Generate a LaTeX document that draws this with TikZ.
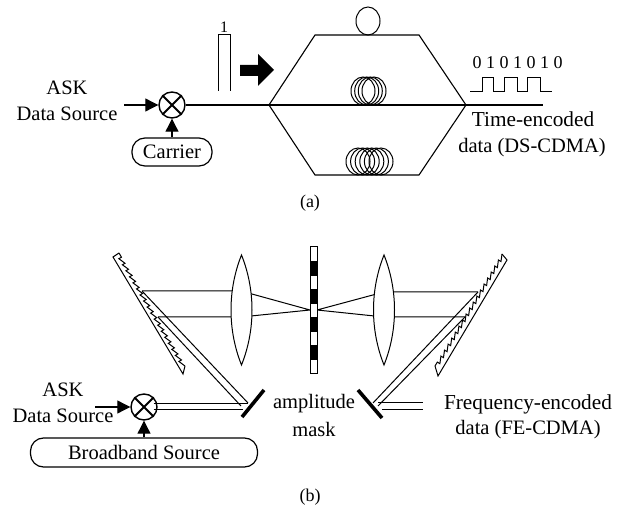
\documentclass[tikz,border=0pt]{standalone}
\usepackage{fontspec}
\setmainfont{Liberation Serif}
\usetikzlibrary{arrows.meta,decorations.pathmorphing}
\tikzset{
  line/.style={line width=1.1pt,black},
  lbl/.style={inner sep=0pt,font=\fontsize{20.5}{22}\selectfont,align=center},
  lblw/.style={inner sep=0pt,font=\fontsize{21.3}{22}\selectfont,align=center},
  mult/.style={circle,draw,line width=1.4pt,minimum size=26pt,inner sep=0pt},
  cross/.style={line width=1.8pt},
  src/.style={rounded corners=13pt,draw,line width=1.2pt,inner sep=0pt,font=\fontsize{20.5}{22}\selectfont},
  feed/.style={line width=1.1pt,-{Triangle[length=13pt,width=13pt]}},
  coil/.style={line width=1pt,draw},
  beam/.style={line width=1pt},
  mirror/.style={line width=3.6pt},
  lens/.style={line width=1pt,draw,fill=white},
  grating/.style={line width=1pt},
  teeth/.style={decorate,decoration={saw,segment length=7pt,amplitude=3pt}},
}
\begin{document}
\begin{tikzpicture}[x=1pt,y=-1pt]
\useasboundingbox (0,0) rectangle (619,510);
% ===== (a) =====
\node[lbl] (ask1) at (67,88) {ASK};
\node[lbl] (data1) at (67,114) {Data Source};
\node[mult] (m1) at (172,105) {};
\draw[cross] (m1.45)--(m1.225) (m1.135)--(m1.315);
\coordinate (in1) at (124,105);
\draw[feed] (in1) -- (m1);
\node[src,minimum width=80pt,minimum height=28pt] (carrier) at (172,152) {Carrier};
\draw[feed] (carrier) -- (m1);
\coordinate (L) at (269,105);
\coordinate (R) at (466,105);
\coordinate (TL) at (315,35);
\coordinate (TR) at (419,35);
\coordinate (BL) at (315,175);
\coordinate (BR) at (419,175);
\coordinate (out1) at (543,105);
\draw[line] (m1) -- (L) -- (out1);
\draw[line,line join=miter] (L) -- (TL) -- (TR) -- (R) -- (BR) -- (BL) -- cycle;
\draw[coil] (368,21) ellipse [x radius=12,y radius=14];
\foreach \c in {363,366.7,370.3,374} \draw[coil] (\c,91) ellipse [x radius=12,y radius=14];
\foreach \c in {358,362.6,367.2,371.8,376.4,381} \draw[coil] (\c,161.5) ellipse [x radius=12,y radius=13.5];
% impulse
\coordinate (i1) at (218,91);
\coordinate (i2) at (218,35);
\coordinate (i3) at (230,35);
\coordinate (i4) at (230,91);
\draw[line,line width=1pt] (i1)--(i2)--(i3)--(i4);
\node[inner sep=0pt,font=\fontsize{16}{16}\selectfont] (one) at (224,27) {1};
% block arrow
\fill (240,65) -- (258,65) -- (258,54) -- (274,70) -- (258,86) -- (258,76) -- (240,76) -- cycle;
% code
\node[inner sep=0pt,font=\fontsize{18}{18}\selectfont] (bits) at (517.5,63) {0 1 0 1 0 1 0};
\draw[line width=1pt] (470,92) -| (482,78) -| (493,92) -| (504,78) -| (517,92) -| (527,78) -| (540,92) -- (552,92);
\node[lblw] (te) at (533,119) {Time-encoded};
\node[lbl] (ds) at (532,148) {data (DS-CDMA)};
\node[inner sep=0pt,font=\fontsize{18}{18}\selectfont] (capa) at (310,203) {(a)};
% ===== (b) =====
% left grating
\draw[grating] (119,253) -- (113,257) -- (183,374) -- (185,366);
\draw[grating,teeth] (185,366) -- (119,253);
% right grating
\draw[grating] (502,254) -- (507,260) -- (438,376) -- (435,366);
\draw[grating,teeth] (502,254) -- (435,366);
% named beam points
\coordinate (g1) at (142,291);
\coordinate (g2) at (158,317);
\coordinate (gm1) at (248,403);
\coordinate (gm2) at (241,406);
\coordinate (h1) at (478,292);
\coordinate (h2) at (465,317);
\coordinate (hm1) at (373,403);
\coordinate (hm2) at (378,406);
\coordinate (fl) at (310,310);
\coordinate (fr) at (317,310);
\draw[beam] (g1) -- (241,291) -- (fl) -- (241,317) -- (g2);
\draw[beam] (h1) -- (384,292) -- (fr) -- (384,317) -- (h2);
\draw[beam] (g1) -- (gm1);
\draw[beam] (g2) -- (gm2);
\draw[beam] (h1) -- (hm1);
\draw[beam] (h2) -- (hm2);
% lenses
\draw[lens] (241.5,255) .. controls (227.5,290) and (227.5,330) .. (241.5,365) .. controls (255.5,330) and (255.5,290) .. (241.5,255) -- cycle;
\draw[lens] (384,255) .. controls (370,290) and (370,330) .. (384,365) .. controls (398,330) and (398,290) .. (384,255) -- cycle;
% mask
\foreach \i [evaluate=\i as \ya using 247+14.1*\i,evaluate=\i as \yb using 247+14.1*(\i+1)] in {0,2,4,6,8}
  \draw[line width=1pt,fill=white] (310.5,\ya) rectangle (317.5,\yb);
\foreach \i [evaluate=\i as \ya using 247+14.1*\i,evaluate=\i as \yb using 247+14.1*(\i+1)] in {1,3,5,7}
  \draw[line width=1pt,fill=black] (310.5,\ya) rectangle (317.5,\yb);
% mirrors
\coordinate (ma) at (242,417);
\coordinate (mb) at (264,390);
\coordinate (mc) at (358,390);
\coordinate (md) at (382,418);
\draw[mirror] (ma) -- (mb);
\draw[mirror] (mc) -- (md);
% source
\node[lbl] (ask2) at (63,390) {ASK};
\node[lbl] (data2) at (63,416) {Data Source};
\node[mult] (m2) at (144,407) {};
\draw[cross] (m2.45)--(m2.225) (m2.135)--(m2.315);
\coordinate (in2) at (95,407);
\draw[feed] (in2) -- (m2);
\node[src,minimum width=227pt,minimum height=29pt] (bb) at (144,452.5) {Broadband Source};
\draw[feed] (bb) -- (m2);
\coordinate (o1) at (248,404);
\coordinate (o2) at (243,410);
\draw[beam] (m2.north east |- o1) -- (o1);
\draw[beam] (m2.south east |- o2) -- (o2);
\draw[beam] (378,403) coordinate (p1) -- (423,403) coordinate (q1);
\draw[beam] (382,410) coordinate (p2) -- (423,410) coordinate (q2);
\node[lbl] (amp) at (314,404) {amplitude};
\node[lbl] (mask) at (314,429) {mask};
\node[lblw] (fe) at (528,404) {Frequency-encoded};
\node[lbl] (fec) at (528,430) {data (FE-CDMA)};
\node[inner sep=0pt,font=\fontsize{18}{18}\selectfont] (capb) at (310,497) {(b)};
\end{tikzpicture}
\end{document}
